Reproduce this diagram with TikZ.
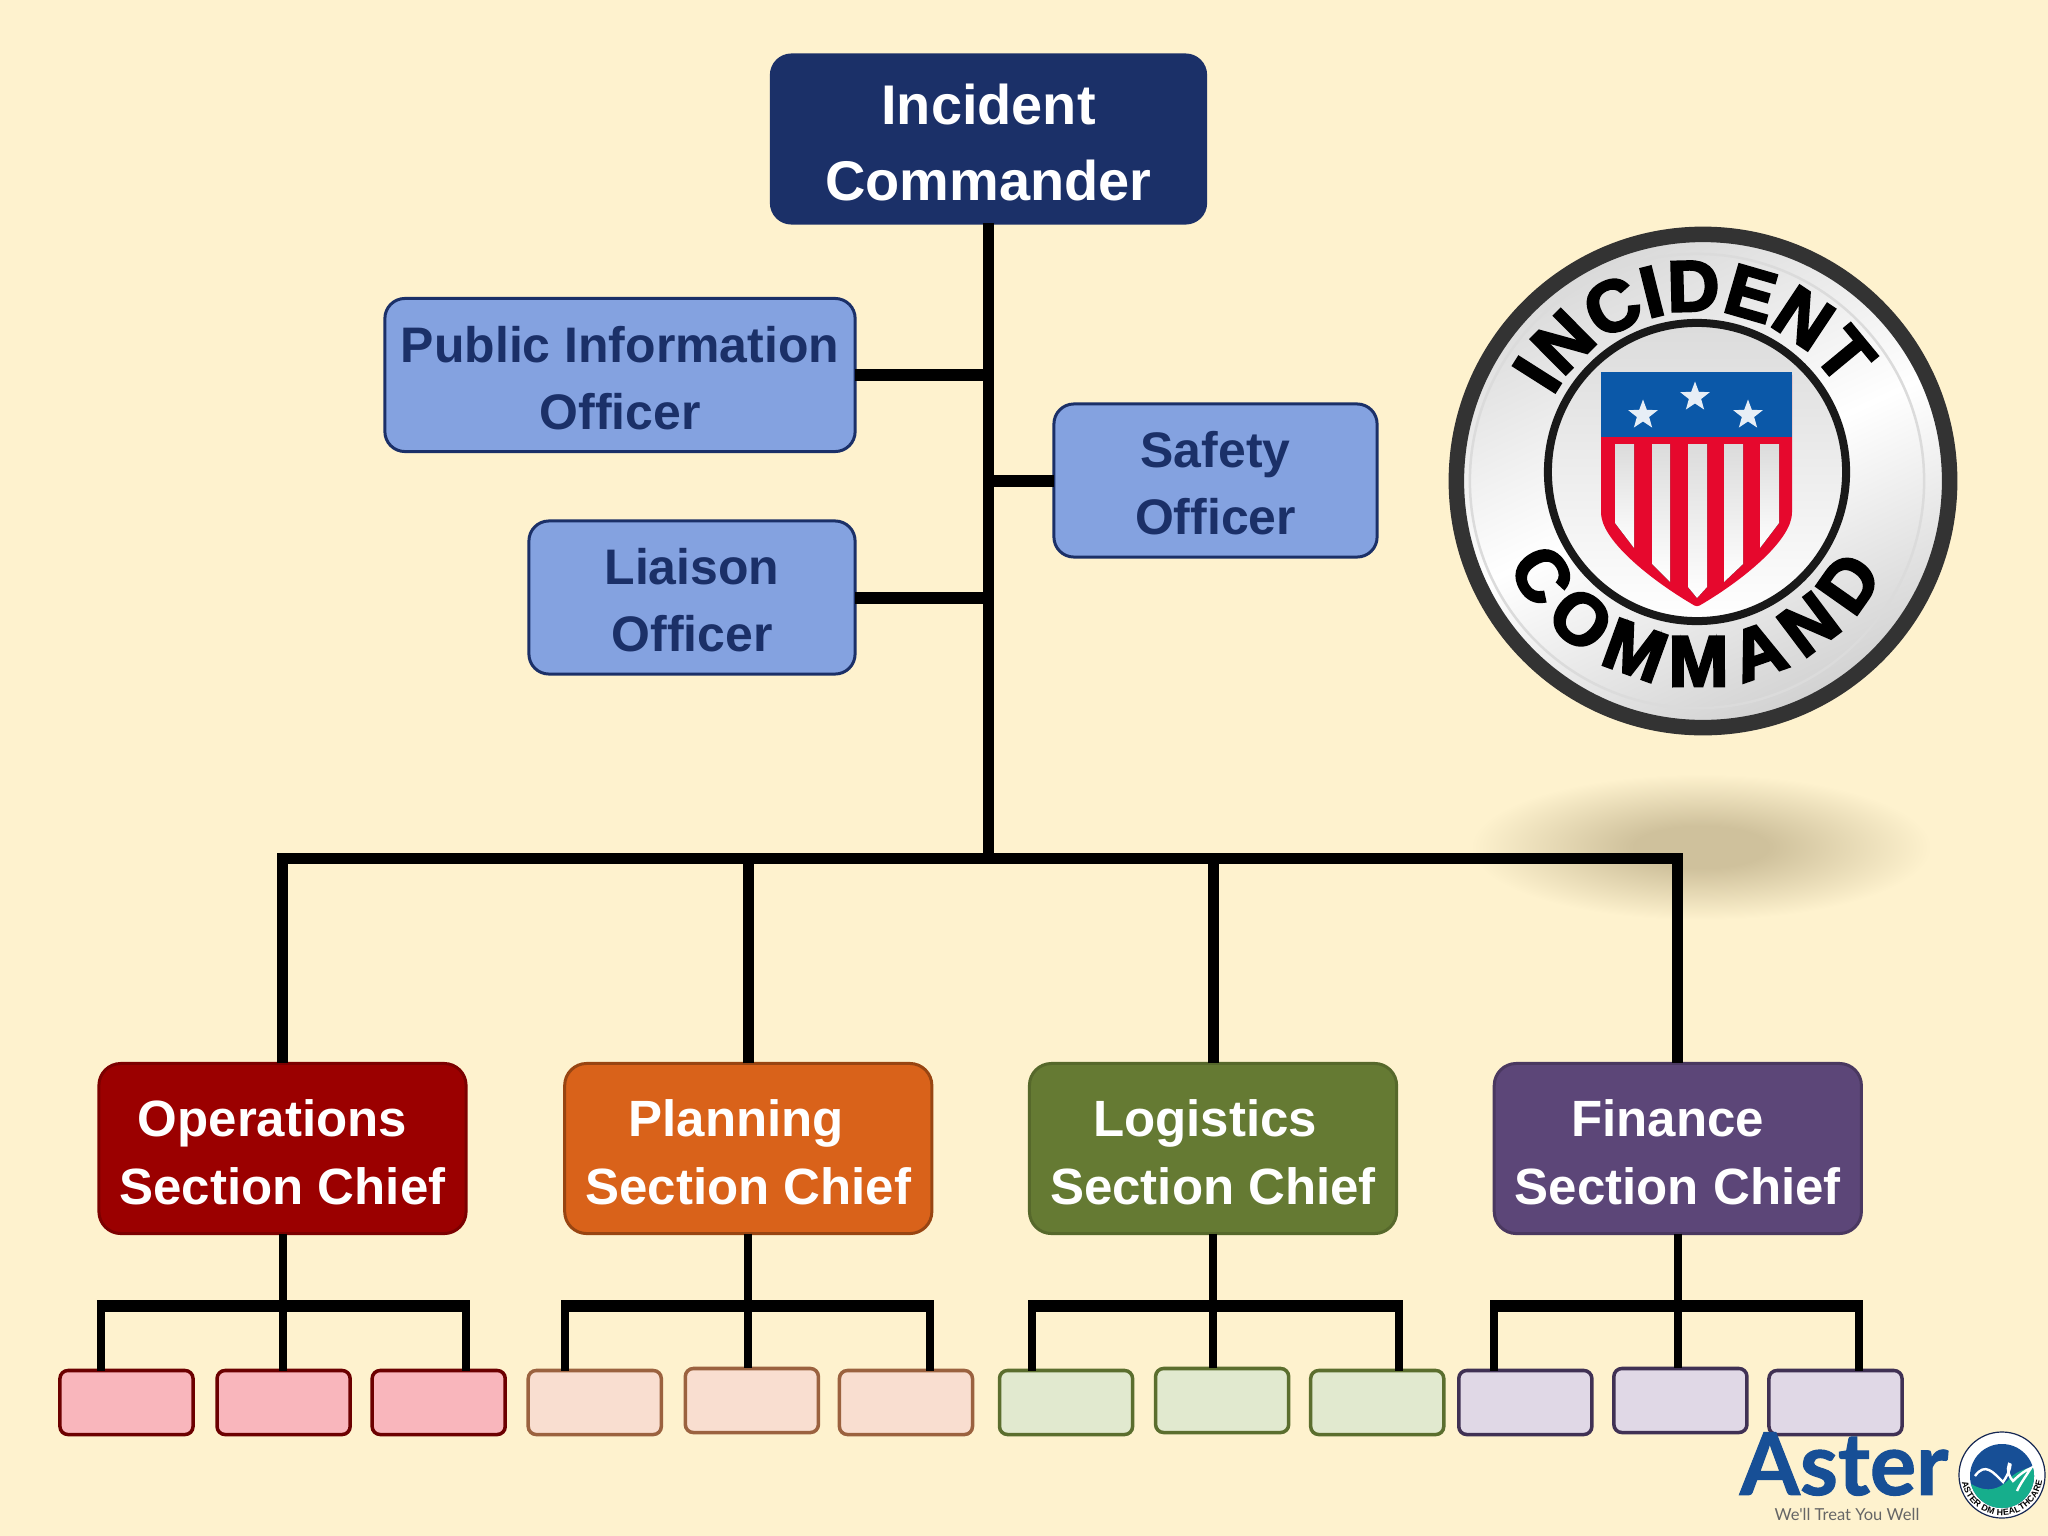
\documentclass[tikz,border=0pt]{standalone}
\usepackage{fontspec}
\setmainfont{Liberation Sans}
\newfontfamily\badgeFont[UprightFont=* Bold, FakeBold=3.5]{Liberation Sans}
\newfontfamily\asterFont[BoldFeatures={FakeBold=1.2}]{Lato}
\usetikzlibrary{positioning, shapes.geometric, decorations.text}
\definecolor{colFondo}{HTML}{FEF2CE}
\definecolor{colSombra}{HTML}{CFC19C}
\definecolor{colMando}{HTML}{1B3068}
\definecolor{colOficial}{HTML}{84A2E0}
\definecolor{colOps}{HTML}{9B0000}
\definecolor{colPlan}{HTML}{D9621A}
\definecolor{colLog}{HTML}{657A33}
\definecolor{colFin}{HTML}{5C4678}
\definecolor{colHojaA}{HTML}{F9B6BC}
\definecolor{colHojaB}{HTML}{F9DED0}
\definecolor{colHojaC}{HTML}{E1E9CF}
\definecolor{colHojaD}{HTML}{E0D8E6}
\definecolor{colAzul}{HTML}{0B58A8}
\definecolor{colRojo}{HTML}{E6082D}
\definecolor{colAster}{HTML}{174F96}
\definecolor{colVerde}{HTML}{16AE8C}
\pgfdeclareradialshading{sombraSuave}{\pgfpointorigin}{%
  color(0bp)=(colSombra); color(7bp)=(colSombra); color(24bp)=(colFondo); color(50bp)=(colFondo)}
\newcommand{\bajaMando}{\rule{0pt}{0.47cm}}
\newcommand{\bajaOficial}{\rule{0pt}{0.42cm}}
\newcommand{\bajaJefe}{\rule{0pt}{0.45cm}}
\tikzset{
  cajaBase/.style={
    draw, line width=0.03cm, rounded corners=0.2cm, outer sep=0pt, inner sep=0pt,
    align=center, text=white
  },
  cajaMando/.style={cajaBase, draw=colMando, fill=colMando,
    minimum width=4.34cm, minimum height=1.68cm,
    font=\fontsize{15.9}{21.6}\selectfont\bfseries},
  cajaOficial/.style={cajaBase, draw=colMando, fill=colOficial, text=colMando,
    minimum height=1.53cm, font=\fontsize{14.2}{19}\selectfont\bfseries},
  cajaJefe/.style={cajaBase, minimum width=3.67cm, minimum height=1.7cm,
    rounded corners=0.22cm, font=\fontsize{14.5}{19.3}\selectfont\bfseries},
  cajaHoja/.style={cajaBase, minimum width=1.33cm, minimum height=0.64cm,
    rounded corners=0.08cm, line width=0.035cm},
  lineaTronco/.style={draw=black, line width=0.11cm},
  lineaBarra/.style={draw=black, line width=0.12cm},
  lineaRama/.style={draw=black, line width=0.08cm},
  lineaCruz/.style={lineaBarra, shorten >=-0.04cm, shorten <=-0.04cm},
  estrella/.style={star, star points=5, star point ratio=2.4, fill=white!90!colAzul,
    minimum size=0.31cm, inner sep=0pt},
  franja/.style={top color=black!14, bottom color=white},
}
\begin{document}
\begin{tikzpicture}[x=0.01cm, y=-0.01cm]
    \path[use as bounding box, fill=colFondo] (0,0) rectangle (2048,1536);
    % Sombra
    \shade[shading=sombraSuave] (1701,847) ellipse (240 and 76);

    % Mando
    \node[cajaMando] (ic) at (988.5,139) {\bajaMando Incident\\Commander};
    \node[cajaOficial, minimum width=4.70cm] (pio) at (620,375) {\bajaOficial Public Information\\Officer};
    \node[cajaOficial, minimum width=3.23cm] (so) at (1215.5,480.5) {\bajaOficial Safety\\Officer};
    \node[cajaOficial, minimum width=3.26cm] (lo) at (692,597.5) {\bajaOficial Liaison\\Officer};

    % Jefes de seccion
    \node[cajaJefe, draw=colOps!80!black, fill=colOps] (s1) at (282.5,1148.5) {\bajaJefe Operations\hspace*{0.2cm}\\Section Chief};
    \node[cajaJefe, draw=colPlan!70!black, fill=colPlan, right=0.985cm of s1] (s2) {\bajaJefe Planning\hspace*{0.24cm}\\Section Chief};
    \node[cajaJefe, draw=colLog!85!black, fill=colLog, right=0.975cm of s2] (s3) {\bajaJefe Logistics\hspace*{0.16cm}\\Section Chief};
    \node[cajaJefe, draw=colFin!80!black, fill=colFin, right=0.975cm of s3] (s4) {\bajaJefe Finance\hspace*{0.2cm}\\Section Chief};

    % Hojas
    \tikzset{hojaA/.style={cajaHoja, draw=colOps!70!black, fill=colHojaA},
      hojaB/.style={cajaHoja, draw=colPlan!60!black!80, fill=colHojaB},
      hojaC/.style={cajaHoja, draw=colLog!90!black, fill=colHojaC},
      hojaD/.style={cajaHoja, draw=colFin!70!black, fill=colHojaD}}
    \node[hojaA] (a1) at (126.5,1402.5) {};
    \node[hojaA, right=0.24cm of a1] (a2) {};
    \node[hojaA, right=0.22cm of a2] (a3) {};
    \node[hojaB, right=0.23cm of a3] (b1) {};
    \node[hojaB, right=0.24cm of b1, yshift=0.02cm] (b2) {};
    \node[hojaB, right=0.21cm of b2, yshift=-0.02cm] (b3) {};
    \node[hojaC, right=0.27cm of b3] (c1) {};
    \node[hojaC, right=0.23cm of c1, yshift=0.02cm] (c2) {};
    \node[hojaC, right=0.22cm of c2, yshift=-0.02cm] (c3) {};
    \node[hojaD, right=0.15cm of c3] (d1) {};
    \node[hojaD, right=0.22cm of d1, yshift=0.02cm] (d2) {};
    \node[hojaD, right=0.22cm of d2, yshift=-0.02cm] (d3) {};

    % Conectores
    \coordinate (tronco) at (988.5,858);
    \draw[lineaTronco] (ic.south) -- (tronco);
    \draw[lineaTronco] (s1.north) |- (tronco) -| (s4.north);
    \draw[lineaTronco] (s2.north) -- (s2.north |- tronco);
    \draw[lineaTronco] (s3.north) -- (s3.north |- tronco);
    \draw[lineaBarra] (pio.east) -- (pio.east -| tronco);
    \draw[lineaBarra] (lo.east) -- (lo.east -| tronco);
    \draw[lineaBarra] (so.west) -- (so.west -| tronco);

    \coordinate (a0) at (101,1306); \coordinate (a9) at (466,1306);
    \coordinate (b0) at (565,1306); \coordinate (b9) at (930,1306);
    \coordinate (c0) at (1032,1306); \coordinate (c9) at (1399,1306);
    \coordinate (d0) at (1494,1306); \coordinate (d9) at (1859,1306);
    \draw[lineaCruz] (a0) -- (a9);
    \draw[lineaCruz] (b0) -- (b9);
    \draw[lineaCruz] (c0) -- (c9);
    \draw[lineaCruz] (d0) -- (d9);
    \draw[lineaRama] (s1.south) -- (s1.south |- a2.north);
    \draw[lineaRama] (s2.south) -- (s2.south |- b2.north);
    \draw[lineaRama] (s3.south) -- (s3.south |- c2.north);
    \draw[lineaRama] (s4.south) -- (s4.south |- d2.north);
    \draw[lineaRama] (a0) -- (a0 |- a1.north); \draw[lineaRama] (a9) -- (a9 |- a3.north);
    \draw[lineaRama] (b0) -- (b0 |- b1.north); \draw[lineaRama] (b9) -- (b9 |- b3.north);
    \draw[lineaRama] (c0) -- (c0 |- c1.north); \draw[lineaRama] (c9) -- (c9 |- c3.north);
    \draw[lineaRama] (d0) -- (d0 |- d1.north); \draw[lineaRama] (d9) -- (d9 |- d3.north);

    % Insignia
    \coordinate (insignia) at (1703,481);
    \coordinate (nucleo) at (1697,472);
    \coordinate (textos) at (1698,477);
    \shade[left color=black!15, right color=black!18, middle color=white, shading angle=25]
      (insignia) circle[radius=2.46cm];
    \draw[black!14, line width=0.025cm] (1697,481) circle[radius=2.27cm];
    \draw[black!80, line width=0.155cm] (insignia) circle[radius=2.465cm];
    \shade[top color=black!14, bottom color=white] (nucleo) circle[radius=1.49cm];
    \draw[black!90, line width=0.08cm] (nucleo) circle[radius=1.49cm];
    \path[decorate, decoration={text along path, text align={fit to path},
        text={|\fontsize{20.5}{21}\badgeFont|INCIDENT}}]
      (textos) ++(151:1.66cm) arc[start angle=151, end angle=32, radius=1.66cm];
    \path[decorate, decoration={text along path, text align={fit to path},
        text={|\fontsize{20.5}{21}\badgeFont|COMMAND}}]
      (textos) ++(205:2.09cm) arc[start angle=205, end angle=332, radius=2.09cm];

    % Escudo
    \fill[colRojo, rounded corners=0.03cm] (1601,372) -- (1792,372) -- (1792,515)
      .. controls (1786,545) and (1740,582) .. (1697,607)
      .. controls (1654,582) and (1607,545) .. (1601,515) -- cycle;
    \fill[colAzul] (1601,372) rectangle (1792,437);
    \fill[franja] (1615,444) -- (1634,444) -- (1634,548) -- (1615,523) -- cycle;
    \fill[franja] (1652,444) -- (1670,444) -- (1670,582) -- (1652,564) -- cycle;
    \fill[franja] (1688,444) -- (1707,444) -- (1707,587) -- (1697,598) -- (1688,587) -- cycle;
    \fill[franja] (1724,444) -- (1743,444) -- (1743,564) -- (1724,582) -- cycle;
    \fill[franja] (1760,444) -- (1779,444) -- (1779,523) -- (1760,548) -- cycle;
    \node[estrella] (e1) at (1643,415) {};
    \node[estrella] (e2) at (1695,397) {};
    \node[estrella] (e3) at (1748,415) {};

    % Logo
    \node[inner sep=0pt, text=colAster, font=\fontsize{24.6}{25}\selectfont\asterFont\bfseries] (aster) at (1844,1464) {Aster};
    \node[inner sep=0pt, text=black!60, font=\fontsize{4.7}{5}\selectfont\asterFont] (lema) at (1847,1514) {We'll Treat You Well};
    \coordinate (sello) at (2002,1475);
    \fill[white] (sello) circle[radius=0.43cm];
    \draw[colMando!80!black, line width=0.012cm] (sello) circle[radius=0.43cm];
    \begin{scope}
      \clip (2002,1476) circle[radius=0.32cm];
      \fill[colAster] (1960,1430) rectangle (2045,1520);
      \fill[colVerde] (1965,1480) .. controls (1985,1495) and (2000,1490) .. (2010,1478)
        .. controls (2018,1470) and (2028,1468) .. (2040,1465) -- (2040,1515) -- (1965,1515) -- cycle;
    \end{scope}
    \draw[white, line width=0.024cm] (1975,1476) .. controls (1985,1462) and (1993,1472) .. (2003,1482)
      .. controls (2010,1472) and (2012,1462) .. (2009,1464)
      .. controls (2006,1470) and (2010,1478) .. (2013,1481)
      .. controls (2020,1474) and (2026,1470) .. (2031,1468)
      .. controls (2026,1476) and (2020,1484) .. (2017,1491);
    \path[decorate, decoration={text along path, text align={fit to path},
        text={|\fontsize{2.5}{3}\selectfont\bfseries|ASTER DM HEALTHCARE}}]
      (sello) ++(190:0.405cm) arc[start angle=190, end angle=352, radius=0.405cm];
\end{tikzpicture}
\end{document}
